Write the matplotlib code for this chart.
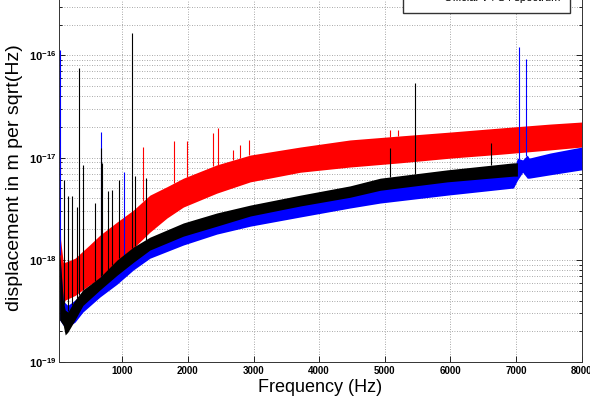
import math
import numpy as np
import matplotlib
matplotlib.use("Agg")
import matplotlib.pyplot as plt
from matplotlib.ticker import FixedLocator, LogLocator, NullFormatter, FuncFormatter
from matplotlib.lines import Line2D

# --- data (Hz, m/sqrt(Hz)) ---

# red trace: band envelope
red_f = [45, 60, 100, 130, 280, 500, 660, 920, 1170, 1420, 1680, 1930, 2440, 2950,
         3710, 4470, 5230, 6000, 6760, 7520, 8000]
red_hi = [6.8e-18, 1.57e-18, 9.5e-19, 9.5e-19, 1.04e-18, 1.40e-18, 1.75e-18, 2.35e-18,
          3.08e-18, 4.3e-18, 5.2e-18, 6.3e-18, 8.5e-18, 1.06e-17, 1.27e-17, 1.49e-17,
          1.63e-17, 1.78e-17, 1.95e-17, 2.13e-17, 2.23e-17]
red_lo = [4.06e-19, 3.6e-19, 3.8e-19, 4.06e-19, 4.5e-19, 5.7e-19, 6.65e-19, 9.5e-19,
          1.31e-18, 1.87e-18, 2.57e-18, 3.29e-18, 4.5e-18, 5.8e-18, 7.2e-18, 8.1e-18,
          8.9e-18, 9.9e-18, 1.08e-17, 1.19e-17, 1.27e-17]

# blue trace: band envelope
blue_f = [45, 100, 130, 170, 280, 400, 660, 920, 1170, 1420, 1930, 2440, 2950, 3710,
          4470, 4930, 5950, 6960, 7020, 7100, 7170, 7200, 7520, 8000]
blue_hi = [1.12e-18, 4.06e-19, 3.8e-19, 3.6e-19, 4.06e-19, 4.85e-19, 6.35e-19, 8.7e-19,
           1.19e-18, 1.57e-18, 2.1e-18, 2.63e-18, 3.15e-18, 3.85e-18, 4.6e-18, 5.4e-18,
           6.5e-18, 7.4e-18, 9.9e-18, 9.5e-18, 1.06e-17, 9.9e-18, 1.11e-17, 1.27e-17]
blue_lo = [2.6e-19, 2.3e-19, 2.21e-19, 2.21e-19, 2.47e-19, 3.1e-19, 4.35e-19, 5.8e-19,
           8.0e-19, 1.04e-18, 1.40e-18, 1.79e-18, 2.14e-18, 2.63e-18, 3.22e-18, 3.6e-18,
           4.3e-18, 5.05e-18, 6.0e-18, 7.2e-18, 6.3e-18, 6.3e-18, 6.8e-18, 7.6e-18]

# black trace ("Official V4 S4 spectrum"), stops near 7 kHz
black_f = [45, 100, 130, 170, 280, 400, 660, 920, 1170, 1420, 1930, 2440, 2950, 3710,
           4470, 4930, 5950, 6960, 7020]
black_hi = [1.25e-18, 4.06e-19, 3.24e-19, 3.1e-19, 4.06e-19, 5.1e-19, 6.8e-19, 1.0e-18,
            1.34e-18, 1.67e-18, 2.3e-18, 2.88e-18, 3.44e-18, 4.3e-18, 5.3e-18, 6.3e-18,
            7.6e-18, 8.9e-18, 8.9e-18]
black_lo = [2.6e-19, 2.3e-19, 1.85e-19, 1.97e-19, 2.6e-19, 3.6e-19, 5.1e-19, 7.1e-19,
            9.5e-19, 1.25e-18, 1.71e-18, 2.14e-18, 2.69e-18, 3.37e-18, 4.1e-18, 4.8e-18,
            5.8e-18, 6.6e-18, 6.6e-18]

# narrow lines (frequency, peak height)
red_line_f = [45, 1316, 1790, 1990, 2380, 2460, 2690, 2800, 2930, 5080, 5200]
red_line_v = [9.9e-18, 1.27e-17, 1.45e-17, 1.45e-17, 1.74e-17, 1.95e-17, 1.19e-17,
              1.33e-17, 1.49e-17, 1.86e-17, 1.86e-17]
blue_line_f = [45, 670, 1026, 7050, 7150]
blue_line_v = [1.13e-16, 1.78e-17, 7.2e-18, 1.2e-16, 9.2e-17]
black_line_f = [113, 177, 238, 305, 345, 405, 584, 670, 695, 775, 838, 955, 1143, 1194,
                1361, 5080, 5460, 6620]
black_line_v = [6.0e-18, 4.2e-18, 4.2e-18, 3.3e-18, 7.5e-17, 8.5e-18, 3.6e-18, 1.24e-17,
                8.9e-18, 4.7e-18, 4.8e-18, 6.0e-18, 1.65e-16, 6.6e-18, 6.3e-18, 1.24e-17,
                5.4e-17, 1.39e-17]

x_ticks = [1000, 2000, 3000, 4000, 5000, 6000, 7000, 8000]
legend_label = "Official V4 S4 spectrum"

plt.rcParams['font.family'] = ['Liberation Sans', 'DejaVu Sans']
plt.rcParams['mathtext.fontset'] = 'custom'
plt.rcParams['mathtext.rm'] = 'Liberation Sans:bold'
plt.rcParams['mathtext.bf'] = 'Liberation Sans:bold'


def draw_trace(ax, f, lo, hi, line_f, line_v, color, z):
    """Band of the noise floor plus its narrow lines sitting on it."""
    ax.fill_between(f, lo, hi, color=color, lw=0, zorder=z)
    # each line starts inside the band at its own frequency
    base = 10 ** np.interp(line_f, f, np.log10(hi))
    ax.vlines(line_f, base, line_v, colors=color, lw=0.8, zorder=z)


fig = plt.figure(figsize=(5.9, 4.03), dpi=100)
# axes top runs past the canvas like the cropped original
ax = fig.add_axes([59.3 / 590, 40.7 / 403, 522.4 / 590, 370.3 / 403])

draw_trace(ax, red_f, red_lo, red_hi, red_line_f, red_line_v, '#ff0000', 2)
draw_trace(ax, blue_f, blue_lo, blue_hi, blue_line_f, blue_line_v, '#0000ff', 3)
draw_trace(ax, black_f, black_lo, black_hi, black_line_f, black_line_v, '#000000', 4)

ax.set_yscale('log')
ax.set_xlim(40, 8000)
ax.set_ylim(1e-19, 4.16e-16)

ax.xaxis.set_major_locator(FixedLocator(x_ticks))
ax.yaxis.set_major_locator(FixedLocator([1e-19, 1e-18, 1e-17, 1e-16]))
ax.yaxis.set_minor_locator(LogLocator(base=10, subs=range(2, 10)))
ax.yaxis.set_minor_formatter(NullFormatter())
ax.yaxis.set_major_formatter(FuncFormatter(
    lambda v, pos: r'$\mathbf{10^{%d}}$' % round(math.log10(v))))

ax.grid(True, which='major', color='#8c8c8c', ls=(0, (1, 2)), lw=0.6)
ax.grid(True, which='minor', axis='y', color='#8c8c8c', ls=(0, (1, 2)), lw=0.6)
ax.set_axisbelow(True)

ax.tick_params(which='both', direction='in', top=True, right=True, width=0.6)
ax.tick_params(which='major', length=4, pad=3)
ax.tick_params(which='minor', length=2)
ax.tick_params(axis='x', labelsize=7)
ax.tick_params(axis='y', labelsize=8, pad=2)
for lab in ax.get_xticklabels():
    lab.set_fontweight('bold')
for sp in ax.spines.values():
    sp.set_linewidth(0.7)
    sp.set_color('#333333')

ax.set_xlabel('Frequency (Hz)', fontsize=13, labelpad=2)
ax.set_ylabel('displacement in m per sqrt(Hz)', fontsize=14, labelpad=4)

handle = Line2D([], [], color='#000000', lw=0.8)
ax.legend([handle], [legend_label], loc='lower right', fontsize=8,
          bbox_to_anchor=(570 / 590, 1 - 13 / 403), bbox_transform=fig.transFigure,
          borderaxespad=0, borderpad=0.9, fancybox=False, framealpha=1,
          edgecolor='#333333')

fig.savefig('out.png', dpi=100)
